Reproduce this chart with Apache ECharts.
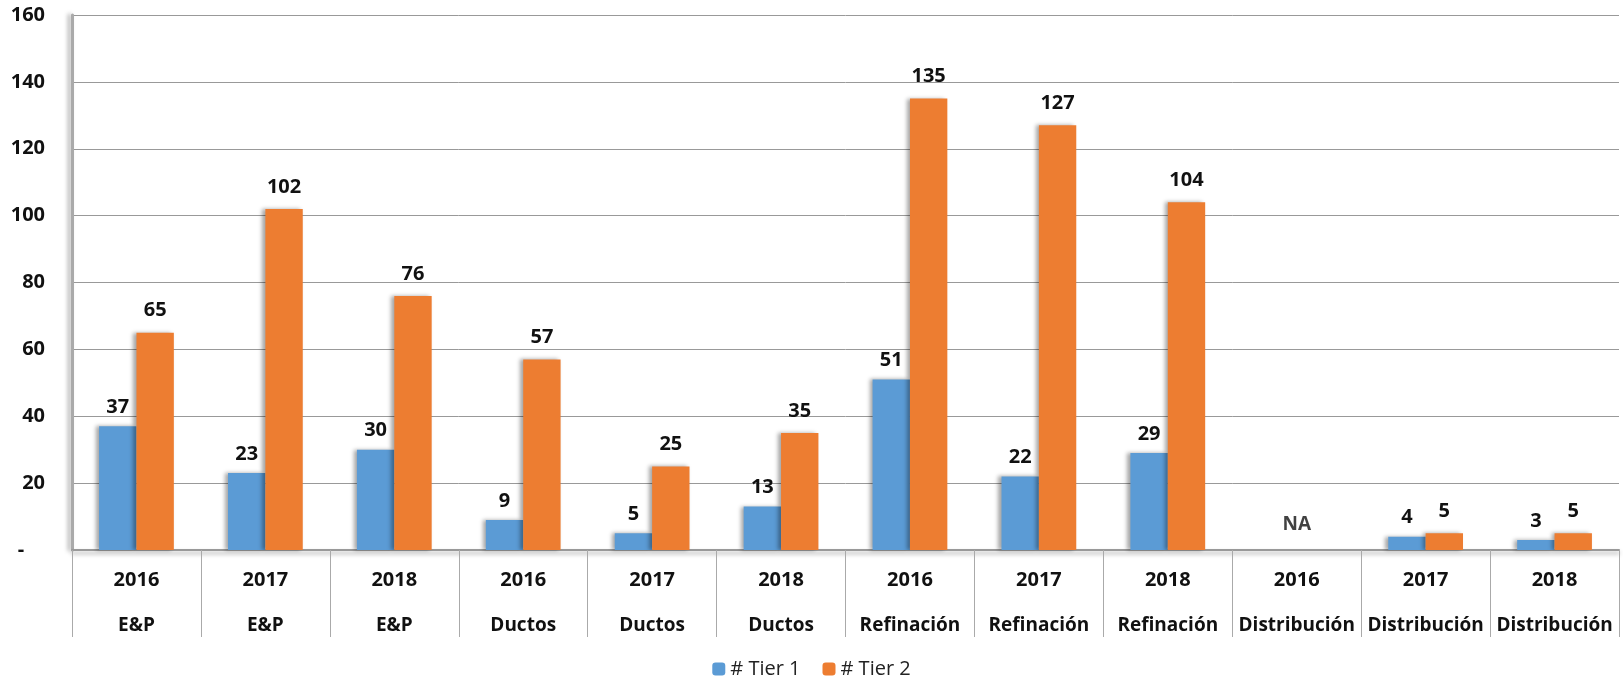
<!DOCTYPE html>
<html>
<head>
<meta charset="UTF-8">
<title>Tier 1 / Tier 2</title>
<script src="https://cdnjs.cloudflare.com/ajax/libs/echarts/6.0.0/echarts.min.js"></script>
<style>
    html, body { margin: 0; padding: 0; background: #fff; }
    #chart { width: 1623px; height: 684px; }
</style>
</head>
<body>
<div id="chart"></div>
<script>
    // data
    const years = ['2016', '2017', '2018', '2016', '2017', '2018', '2016', '2017', '2018', '2016', '2017', '2018'];
    const segments = ['E&P', 'E&P', 'E&P', 'Ductos', 'Ductos', 'Ductos', 'Refinación', 'Refinación', 'Refinación', 'Distribución', 'Distribución', 'Distribución'];
    const tier1 = [37, 23, 30, 9, 5, 13, 51, 22, 29, null, 4, 3];
    const tier2 = [65, 102, 76, 57, 25, 35, 135, 127, 104, null, 5, 5];
    const naIndex = 9;

    const categories = years.map((y, i) => y + '|' + segments[i]);
    const naData = categories.map((c, i) => i === naIndex ? 0 : null);

    const font = 'Open Sans';
    const shadow = { shadowColor: 'rgba(0,0,0,0.35)', shadowBlur: 4, shadowOffsetX: -3, shadowOffsetY: 0 };

    const chart = echarts.init(document.getElementById('chart'));
    chart.setOption({
        animation: false,
        textStyle: { fontFamily: font },
        grid: { left: 72, right: 4, top: 15, bottom: 134 },
        legend: {
            data: ['# Tier 1', '# Tier 2'],
            bottom: 0,
            left: 'center',
            itemWidth: 13,
            itemHeight: 13,
            itemGap: 22,
            textStyle: { fontSize: 20, color: '#222', fontFamily: font }
        },
        xAxis: {
            type: 'category',
            data: categories,
            axisLine: { lineStyle: { color: '#999', width: 2, ...shadow, shadowOffsetY: 3, shadowOffsetX: 0 } },
            axisTick: { show: true, length: 87, interval: 0, lineStyle: { color: '#aaa', width: 1 } },
            axisLabel: {
                interval: 0,
                margin: 8,
                formatter: v => {
                    const p = v.split('|');
                    return '{y|' + p[0] + '}\n{n|' + p[1] + '}';
                },
                rich: {
                    y: { color: '#111', fontWeight: 'bold', fontSize: 20, lineHeight: 45, fontFamily: font },
                    n: { color: '#111', fontWeight: 'bold', fontSize: 19, lineHeight: 45, fontFamily: font }
                }
            }
        },
        yAxis: {
            type: 'value',
            min: 0,
            max: 160,
            interval: 20,
            axisLine: { show: true, lineStyle: { color: '#aaa', width: 3, ...shadow, shadowOffsetX: -3 } },
            axisTick: { show: false },
            splitLine: { lineStyle: { color: '#999', width: 1 } },
            axisLabel: {
                margin: 27,
                color: '#111',
                fontWeight: 'bold',
                fontSize: 20,
                fontFamily: font,
                formatter: v => v === 0 ? '-    ' : String(v)
            }
        },
        series: [
            {
                name: '# Tier 1',
                type: 'bar',
                data: tier1,
                barGap: '0%',
                barCategoryGap: '42%',
                itemStyle: { color: '#5B9BD5', ...shadow },
                label: { show: true, position: 'top', distance: 9, color: '#111', fontWeight: 'bold', fontSize: 20 }
            },
            {
                name: '# Tier 2',
                type: 'bar',
                data: tier2,
                itemStyle: { color: '#ED7D31', ...shadow },
                label: { show: true, position: 'top', distance: 12, color: '#111', fontWeight: 'bold', fontSize: 20 }
            },
            {
                name: 'NA',
                type: 'scatter',
                data: naData,
                symbolSize: 0,
                label: {
                    show: true,
                    position: 'top',
                    distance: 16,
                    formatter: 'NA',
                    color: '#111',
                    fontWeight: 'bold',
                    fontSize: 19
                }
            }
        ]
    });
</script>
</body>
</html>
